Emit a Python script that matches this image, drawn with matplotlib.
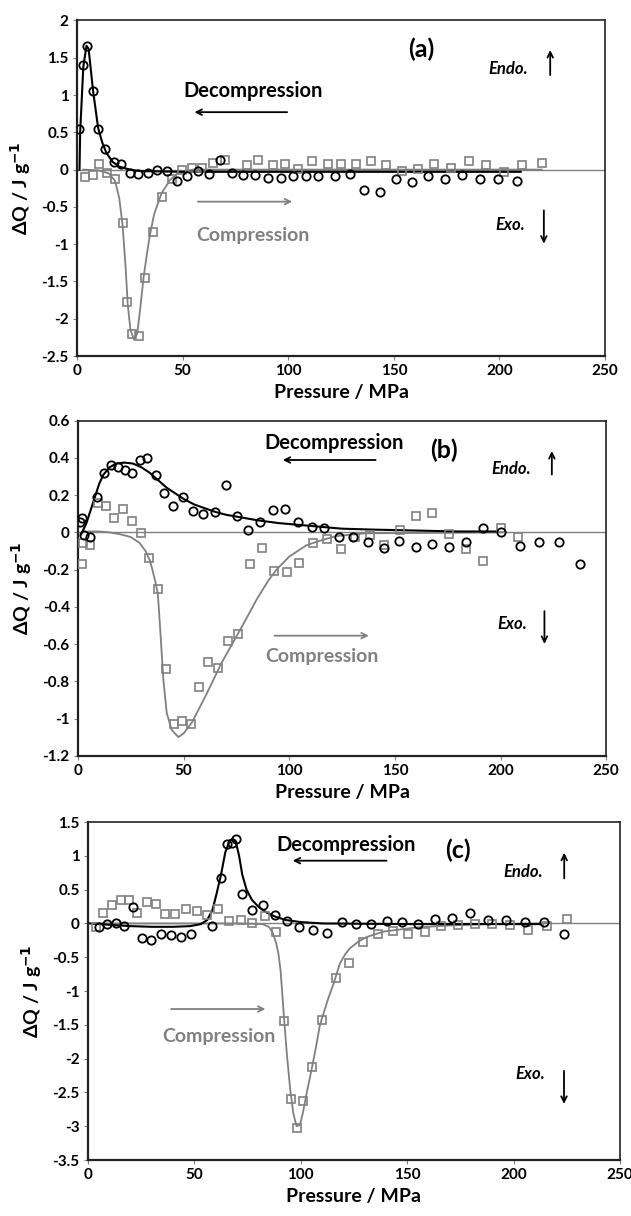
import matplotlib
matplotlib.use("Agg")
import matplotlib.pyplot as plt
from matplotlib.ticker import FuncFormatter, MultipleLocator

plt.rcParams["font.family"] = ["Lato", "DejaVu Sans"]
plt.rcParams["axes.unicode_minus"] = False

GREY = "#808080"

# ---- panel (a) ----
A_DEC_P = [1.1, 3.0, 4.9, 7.6, 10.1, 13.4, 17.4, 20.8, 25.1, 29.0, 33.5, 37.9, 42.5,
           47.2, 52.2, 57.4, 62.5, 67.7, 73.5, 78.7, 84.3, 90.3, 96.4, 102.4, 108.3,
           114.0, 122.2, 129.3, 136.0, 143.5, 150.9, 158.5, 166.0, 174.2, 182.4,
           190.8, 199.5, 208.2]
A_DEC_Q = [0.54, 1.40, 1.66, 1.06, 0.55, 0.28, 0.10, 0.08, -0.04, -0.06, -0.04, 0.0,
           -0.02, -0.15, -0.09, -0.02, -0.06, 0.125, -0.05, -0.07, -0.07, -0.11, -0.11,
           -0.09, -0.09, -0.09, -0.08, -0.06, -0.27, -0.30, -0.13, -0.17, -0.09, -0.13,
           -0.07, -0.13, -0.13, -0.15]
A_COMP_P = [3.8, 7.4, 10.4, 14.0, 18.0, 21.6, 23.8, 25.9, 29.4, 32.2, 36.1, 40.2, 44.8,
            49.6, 54.3, 59.0, 64.5, 70.1, 80.3, 85.8, 92.7, 98.5, 104.8, 111.1, 118.7,
            125.0, 132.0, 139.1, 146.3, 153.7, 161.3, 169.2, 177.1, 185.6, 193.7,
            202.2, 210.8, 220.0]
A_COMP_Q = [-0.10, -0.07, 0.08, -0.04, -0.13, -0.71, -1.77, -2.21, -2.23, -1.45, -0.84,
            -0.37, -0.13, 0.0, 0.02, 0.02, 0.09, 0.13, 0.06, 0.13, 0.06, 0.08, 0.01,
            0.12, 0.07, 0.07, 0.07, 0.12, 0.06, -0.02, 0.01, 0.08, 0.02, 0.12, 0.06,
            -0.03, 0.06, 0.09]
A_DEC_FIT_P = [1.2, 1.5, 3.0, 4.5, 5.5, 7.6, 10.0, 12.0, 14.0, 17.0, 20.0, 25.0, 30.0,
               50.0, 100.0, 150.0, 210.0]
A_DEC_FIT_Q = [0.0, 0.5, 1.38, 1.66, 1.62, 1.06, 0.56, 0.36, 0.22, 0.10, 0.04, 0.0,
               -0.02, -0.03, -0.03, -0.03, -0.03]
A_COMP_FIT_P = [3, 10, 15, 18, 20, 21.6, 23, 24, 25.3, 27, 28.5, 30, 31.5, 33, 34.5,
                36.5, 40, 44, 48, 55, 220]
A_COMP_FIT_Q = [0.0, -0.01, -0.05, -0.15, -0.38, -0.75, -1.3, -1.8, -2.15, -2.28, -2.2,
                -1.85, -1.45, -1.15, -0.88, -0.6, -0.32, -0.14, -0.04, 0.0, 0.0]

# ---- panel (b) ----
B_DEC_P = [0.9, 1.7, 3.0, 5.7, 8.8, 12.5, 15.6, 18.8, 22.3, 25.7, 29.4, 32.8, 36.8,
           40.9, 45.1, 49.9, 54.6, 59.3, 64.9, 69.9, 75.1, 80.3, 86.2, 92.2, 98.0,
           104.3, 110.6, 116.6, 123.7, 130.4, 137.5, 144.9, 152.1, 159.9, 167.5,
           175.7, 183.7, 191.9, 200.3, 209.3, 218.3, 227.9, 237.4]
B_DEC_Q = [0.058, 0.076, -0.014, -0.023, 0.19, 0.32, 0.36, 0.35, 0.335, 0.32, 0.39,
           0.40, 0.31, 0.21, 0.14, 0.19, 0.115, 0.10, 0.108, 0.255, 0.088, 0.013,
           0.058, 0.12, 0.126, 0.054, 0.031, 0.022, -0.023, -0.023, -0.053, -0.082,
           -0.045, -0.077, -0.062, -0.080, -0.050, 0.022, 0.004, -0.073, -0.050,
           -0.050, -0.17]
B_COMP_P = [1.7, 2.5, 5.7, 9.3, 13.3, 17.0, 21.2, 25.4, 29.7, 33.8, 38.0, 41.5, 45.5,
            49.1, 53.4, 57.3, 61.4, 66.4, 70.9, 75.9, 81.4, 87.0, 92.8, 98.8, 104.8,
            111.1, 117.7, 124.5, 131.2, 138.3, 145.0, 152.5, 160.0, 167.8, 175.7,
            183.6, 191.6, 200.1, 208.5]
B_COMP_Q = [-0.17, -0.059, -0.068, 0.16, 0.142, 0.076, 0.124, 0.063, -0.002, -0.14,
            -0.306, -0.734, -1.031, -1.013, -1.031, -0.832, -0.695, -0.73, -0.582,
            -0.546, -0.17, -0.085, -0.206, -0.211, -0.166, -0.055, -0.037, -0.091,
            -0.023, -0.014, -0.068, 0.013, 0.088, 0.106, -0.009, -0.089, -0.152,
            0.025, -0.023]
B_DEC_FIT_P = [1.5, 4, 6, 8, 10, 12, 15, 18, 22, 26, 30, 34, 38, 42, 46, 50, 55, 60,
               65, 70, 75, 85, 95, 105, 115, 125, 140, 160, 180, 198]
B_DEC_FIT_Q = [-0.01, 0.05, 0.12, 0.19, 0.26, 0.31, 0.35, 0.37, 0.375, 0.37, 0.35,
               0.32, 0.28, 0.24, 0.21, 0.18, 0.15, 0.13, 0.11, 0.095, 0.085, 0.065,
               0.05, 0.04, 0.03, 0.02, 0.015, 0.01, 0.005, 0.005]
B_COMP_FIT_P = [5, 10, 15, 20, 25, 29, 32, 34, 35, 36.5, 37.8, 38.8, 40.4, 42, 44.3,
                47.5, 50, 54, 61, 68, 76.7, 84.6, 90, 94, 100, 108, 113, 122, 136, 200]
B_COMP_FIT_Q = [0.005, 0.005, 0.0, -0.01, -0.025, -0.055, -0.1, -0.15, -0.19, -0.26,
                -0.33, -0.50, -0.79, -0.97, -1.06, -1.10, -1.08, -1.02, -0.865, -0.70,
                -0.525, -0.36, -0.26, -0.20, -0.13, -0.07, -0.05, -0.02, -0.005, 0.0]

# ---- panel (c) ----
C_DEC_P = [5.3, 9.1, 13.2, 17.1, 21.3, 25.5, 29.6, 34.3, 38.8, 43.6, 48.3, 58.4, 62.5,
           65.5, 67.5, 69.5, 72.2, 76.9, 82.1, 87.9, 93.4, 99.3, 105.6, 112.2, 119.2,
           125.8, 132.8, 140.4, 147.7, 155.2, 163.1, 170.9, 179.5, 187.8, 196.4,
           205.4, 214.4, 223.7]
C_DEC_Q = [-0.05, -0.01, 0.01, -0.04, 0.25, -0.21, -0.24, -0.15, -0.17, -0.20, -0.16,
           -0.04, 0.67, 1.18, 1.19, 1.25, 0.43, 0.20, 0.27, 0.12, 0.035, -0.05, -0.09,
           -0.14, 0.025, -0.01, -0.01, 0.04, 0.025, -0.015, 0.065, 0.085, 0.15, 0.05,
           0.05, 0.025, 0.015, -0.15]
C_COMP_P = [3.8, 7.2, 11.1, 15.4, 19.3, 23.2, 27.6, 31.9, 36.2, 40.9, 45.9, 51.1, 55.7,
            61.2, 66.4, 71.8, 77.3, 83.2, 88.4, 92.3, 95.4, 98.1, 101.2, 105.4, 110.0,
            116.4, 122.8, 129.4, 136.1, 143.5, 150.5, 158.4, 165.9, 173.7, 181.7,
            190.0, 198.3, 206.9, 215.5, 224.9]
C_COMP_Q = [-0.06, 0.16, 0.27, 0.35, 0.35, 0.15, 0.31, 0.29, 0.135, 0.135, 0.21, 0.18,
            0.12, 0.21, 0.03, 0.05, 0.01, 0.11, -0.12, -1.44, -2.60, -3.03, -2.62,
            -2.13, -1.43, -0.81, -0.58, -0.28, -0.16, -0.11, -0.15, -0.12, -0.04,
            -0.02, -0.01, -0.01, -0.03, -0.09, -0.04, 0.06]
C_DEC_FIT_P = [1, 10, 20, 30, 40, 48, 53, 56, 58.5, 60.5, 62.5, 64.5, 66.5, 68, 69.5,
               71, 72.5, 74.5, 77, 80, 84, 88, 93, 100, 110, 150, 212]
C_DEC_FIT_Q = [0.0, -0.02, -0.04, -0.05, -0.05, -0.04, -0.01, 0.05, 0.2, 0.45, 0.72,
               1.05, 1.22, 1.25, 1.2, 1.0, 0.72, 0.50, 0.35, 0.25, 0.16, 0.10, 0.05,
               0.02, 0.0, -0.01, -0.01]
C_COMP_FIT_P = [3, 40, 70, 82, 85, 87, 88.5, 89.5, 90.5, 91.2, 92.2, 93.5, 95, 96.5, 98,
                99.6, 101, 102.5, 105, 107, 109, 111, 113, 115.3, 118.4, 121, 123, 127,
                131, 139, 154, 170, 186, 215]
C_COMP_FIT_Q = [0.0, 0.0, 0.0, -0.01, -0.05, -0.15, -0.3, -0.45, -0.7, -1.0, -1.43,
                -1.95, -2.45, -2.81, -3.0, -2.98, -2.8, -2.55, -2.17, -1.85, -1.5, -1.3,
                -1.1, -0.9, -0.59, -0.45, -0.37, -0.27, -0.2, -0.12, -0.06, -0.03,
                -0.01, 0.0]

panels = [
    dict(rect=[0.122, 0.7072, 0.837, 0.276], ylim=(-2.5, 2), ystep=0.5, label="(a)",
         dec=(A_DEC_P, A_DEC_Q), comp=(A_COMP_P, A_COMP_Q),
         dec_fit=(A_DEC_FIT_P, A_DEC_FIT_Q), comp_fit=(A_COMP_FIT_P, A_COMP_FIT_Q),
         lab_xy=(163, 1.61), endo=(204, 1.35), up=(224, 1.23, 1.64),
         exo=(205, -0.74), down=(221, -0.51, -1.03),
         dec_txt=(83.5, 1.05), dec_arr=(100.8, 54.3, 0.77),
         comp_txt=(83.1, -0.89), comp_arr=(55.9, 103.2, -0.43)),
    dict(rect=[0.1236, 0.3785, 0.837, 0.2755], ylim=(-1.2, 0.6), ystep=0.2, label="(b)",
         dec=(B_DEC_P, B_DEC_Q), comp=(B_COMP_P, B_COMP_Q),
         dec_fit=(B_DEC_FIT_P, B_DEC_FIT_Q), comp_fit=(B_COMP_FIT_P, B_COMP_FIT_Q),
         lab_xy=(173, 0.443), endo=(205, 0.339), up=(224.3, 0.296, 0.452),
         exo=(205.6, -0.492), down=(220.8, -0.408, -0.614),
         dec_txt=(121.3, 0.479), dec_arr=(142.2, 95.6, 0.389),
         comp_txt=(115.4, -0.668), comp_arr=(91.7, 139.0, -0.555)),
    dict(rect=[0.1395, 0.046, 0.843, 0.278], ylim=(-3.5, 1.5), ystep=0.5, label="(c)",
         dec=(C_DEC_P, C_DEC_Q), comp=(C_COMP_P, C_COMP_Q),
         dec_fit=(C_DEC_FIT_P, C_DEC_FIT_Q), comp_fit=(C_COMP_FIT_P, C_COMP_FIT_Q),
         lab_xy=(174, 1.086), endo=(204.3, 0.765), up=(223.8, 0.627, 1.086),
         exo=(207.7, -2.23), down=(223.7, -2.14, -2.71),
         dec_txt=(121.2, 1.16), dec_arr=(141.6, 94.9, 0.928),
         comp_txt=(61.6, -1.676), comp_arr=(37.7, 84.7, -1.266)),
]

fig = plt.figure(figsize=(6.31, 12.16), dpi=100)

for p in panels:
    ax = fig.add_axes(p["rect"])
    ax.set_xlim(0, 250)
    ax.set_ylim(*p["ylim"])
    ax.xaxis.set_major_locator(MultipleLocator(50))
    ax.yaxis.set_major_locator(MultipleLocator(p["ystep"]))
    ax.yaxis.set_major_formatter(FuncFormatter(lambda v, _: f"{round(v, 2):g}"))
    ax.tick_params(direction="out", length=3, width=0.8, color=GREY,
                   labelsize=11, pad=3)
    for t in ax.get_xticklabels() + ax.get_yticklabels():
        t.set_fontweight("bold")
    for side, sp in ax.spines.items():
        sp.set_color("#222222")
        sp.set_linewidth(1.6 if side in ("left", "bottom") else 1.2)

    ax.axhline(0, color=GREY, lw=1.0, zorder=1)
    ax.plot(*p["comp_fit"], color=GREY, lw=1.3, zorder=2)
    ax.plot(*p["dec_fit"], color="black", lw=1.5, zorder=3)
    ax.plot(*p["comp"], ls="none", marker="s", ms=5.5, mfc="none", mec=GREY,
            mew=1.2, zorder=4)
    ax.plot(*p["dec"], ls="none", marker="o", ms=6, mfc="none", mec="black",
            mew=1.3, zorder=5)

    ax.text(*p["lab_xy"], p["label"], fontsize=18, fontweight="bold",
            ha="center", va="center")
    ax.text(*p["endo"], "Endo.", fontsize=12, fontweight="bold", style="italic",
            ha="center", va="center")
    ax.text(*p["exo"], "Exo.", fontsize=12, fontweight="bold", style="italic",
            ha="center", va="center")
    ux, uy0, uy1 = p["up"]
    ax.annotate("", xy=(ux, uy1), xytext=(ux, uy0),
                arrowprops=dict(arrowstyle="->", color="black", lw=1.3))
    dx, dy0, dy1 = p["down"]
    ax.annotate("", xy=(dx, dy1), xytext=(dx, dy0),
                arrowprops=dict(arrowstyle="->", color="black", lw=1.3))

    ax.text(*p["dec_txt"], "Decompression", fontsize=14.5, fontweight="bold",
            ha="center", va="center")
    tx, hx, ay = p["dec_arr"]
    ax.annotate("", xy=(hx, ay), xytext=(tx, ay),
                arrowprops=dict(arrowstyle="->", color="black", lw=1.3))
    ax.text(*p["comp_txt"], "Compression", fontsize=14, fontweight="bold",
            color=GREY, ha="center", va="center")
    tx, hx, ay = p["comp_arr"]
    ax.annotate("", xy=(hx, ay), xytext=(tx, ay),
                arrowprops=dict(arrowstyle="->", color=GREY, lw=1.3))

    ax.set_xlabel("Pressure / MPa", fontsize=14, fontweight="bold", labelpad=4)
    ax.set_ylabel("ΔQ / J g$^{\\mathbf{-1}}$", fontsize=14, fontweight="bold",
                  labelpad=6)

fig.savefig("out.png", dpi=100)
